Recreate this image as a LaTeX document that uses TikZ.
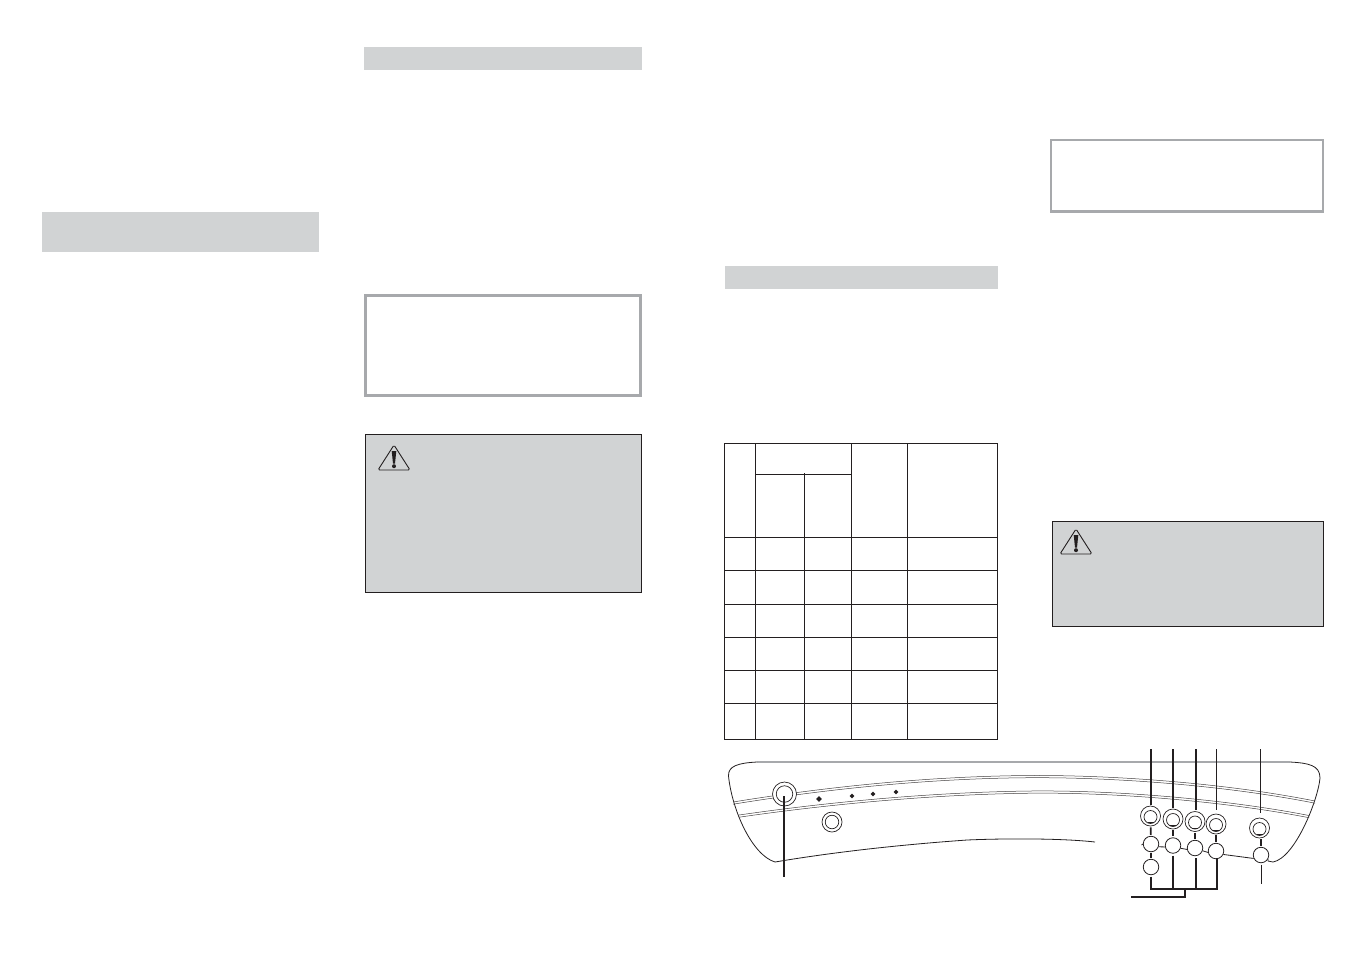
\documentclass[tikz,border=0pt]{standalone}
\usetikzlibrary{shapes.geometric}
\definecolor{panelgray}{HTML}{D1D3D4}
\definecolor{framegray}{HTML}{A7A9AC}
\definecolor{inkblack}{HTML}{231F20}
\tikzset{
  band/.style={fill=panelgray,draw=none},
  framebox/.style={draw=framegray,line width=3pt,fill=white},
  warnbox/.style={fill=panelgray,draw=inkblack,line width=0.9pt},
  grid line/.style={draw=inkblack,line width=1.1pt},
  outline/.style={draw=inkblack,line width=0.8pt},
  stripe/.style={draw=inkblack!85,line width=0.5pt},
  ring/.style={circle,draw=inkblack,line width=0.7pt,inner sep=0pt,minimum size=#1,fill=white},
  ringin/.style={circle,draw=inkblack,line width=0.7pt,inner sep=0pt,minimum size=#1},
  btn/.style={circle,draw=inkblack,line width=0.8pt,inner sep=0pt,minimum size=15.5pt,fill=white},
  dotmark/.style={diamond,aspect=1,fill=inkblack,inner sep=0pt,minimum size=#1},
  heavy/.style={draw=inkblack,line width=1.7pt},
  light/.style={draw=inkblack,line width=0.9pt},
  gapped/.style={heavy,shorten <=1pt,shorten >=1pt},
  warnsign/.style={draw=inkblack,line width=0.9pt,line join=round,rounded corners=1.5pt,fill=panelgray},
}
\begin{document}
\begin{tikzpicture}[x=1pt,y=-1pt]
\useasboundingbox (0,0) rectangle (1351,954);
% heading bands
\fill[band] (364,47) rectangle (642,70);
\fill[band] (42,212) rectangle (319,252);
\fill[band] (725,266) rectangle (998,289);
% framed boxes
\draw[framebox] (365.5,295.7) rectangle (640,395.2);
\draw[framebox,line width=2.4pt] (1051.2,139.8) rectangle (1322.8,211.6);
% warning boxes
\draw[warnbox] (365.5,434.5) rectangle (641.5,592.5);
\draw[warnbox] (1052.5,521.5) rectangle (1323.5,626.5);
\foreach \dx/\dy in {0/0,682/84}{
  \begin{scope}[shift={(\dx,\dy)}]
    \draw[warnsign] (394,445) -- (410,470) -- (378,470) -- cycle;
    \fill[inkblack] (391.7,451) -- (396.3,451) -- (395,463.5) -- (393,463.5) -- cycle;
    \fill[inkblack] (394,466.2) circle (2);
  \end{scope}
}
% table
\draw[grid line] (724.7,443.5) rectangle (997.5,739.5);
\foreach \y in {537.5,570.5,604.5,637.5,670.5,703.5}
  \draw[grid line] (724.7,\y) -- (997.5,\y);
\draw[grid line] (755.3,474.3) -- (851.3,474.3);
\draw[grid line] (755.3,443.5) -- (755.3,739.5);
\draw[grid line] (804.4,473) -- (804.4,739.5);
\draw[grid line] (851.3,443.5) -- (851.3,739.5);
\draw[grid line] (907.3,443.5) -- (907.3,739.5);
% control panel outline
\draw[draw=framegray,line width=1.6pt] (757,762) -- (1290,762);
\draw[outline] (757,762) .. controls (738,763) and (728,766) .. (728.5,776)
  .. controls (732,810) and (752,855) .. (775,862);
\draw[outline] (775,862) .. controls (840,851) and (910,844) .. (967,840)
  .. controls (1000,838.5) and (1060,838) .. (1095,842);
\draw[outline] (1290,762) .. controls (1308,763) and (1320,765) .. (1320,778)
  .. controls (1318,800) and (1295,858) .. (1273,862) -- (1268,861);
% stripes
\foreach \o in {0,2.2}{
  \draw[stripe] (733,{802+\o}) .. controls (850,{783+\o}) and (950,{776+\o}) .. (1030,{775.5+\o})
     .. controls (1120,{775+\o}) and (1230,{784+\o}) .. (1315,{801+\o});
  \draw[stripe] (739,{815+\o}) .. controls (850,{799+\o}) and (950,{792+\o}) .. (1030,{791+\o})
     .. controls (1120,{790+\o}) and (1230,{800+\o}) .. (1309,{815.5+\o});
}
% left controls
\node[ring=24pt] (mainOut) at (784.5,794) {};
\node[ringin=16.5pt] (mainIn) at (784.5,794) {};
\node[ring=20pt] (subOut) at (832,822) {};
\node[ringin=13.5pt] (subIn) at (832,822) {};
\node[dotmark=6pt] (d1) at (819,799) {};
\node[dotmark=5pt] (d2) at (852,796) {};
\node[dotmark=5pt] (d3) at (873,794) {};
\node[dotmark=5pt] (d4) at (896,792) {};
\coordinate (mainEnd) at (784,877);
\coordinate (mainTip) at (784,796);
\draw[heavy] (mainTip) -- (mainEnd);
% knobs
\node[ring=20pt] (k1) at (1150.5,816) {}; \node[ringin=13pt] (k1i) at (1150.5,817) {};
\node[ring=20pt] (k2) at (1173,819) {}; \node[ringin=13pt] (k2i) at (1173,820) {};
\node[ring=20pt] (k3) at (1195,821.5) {}; \node[ringin=13pt] (k3i) at (1195,822.5) {};
\node[ring=20pt] (k4) at (1216,824) {}; \node[ringin=13pt] (k4i) at (1216,825) {};
\node[ring=20pt] (k5) at (1259.5,828) {}; \node[ringin=13pt] (k5i) at (1259.5,829) {};
\foreach \k in {k1,k2,k3,k4,k5}
  \draw[inkblack,line width=0.7pt] ([yshift=-6.8pt]\k.center) ++(-3,0) -- ++(6,0);
% buttons
\node[btn] (b1) at (1151,844) {};
\node[btn] (b2) at (1173,845.5) {};
\node[btn] (b3) at (1195,848) {};
\node[btn] (b4) at (1216,851) {};
\node[btn] (b5) at (1261,855) {};
\node[btn] (b6) at (1151,867) {};
% links between buttons and panel edge
\coordinate (stub) at (1141.5,845);
\draw[outline] (b1.west) -- (stub);
\draw[outline] (b1.-20) -- (b2.190);
\draw[outline] (b2.-20) -- (b3.190);
\draw[outline] (b3.-20) -- (b4.190);
\draw[outline] (b4.-25) -- (b5.205);
\coordinate (edgeEnd) at (1268,861);
\draw[outline] (b5.-30) -- (edgeEnd);
% leaders
\coordinate (t1) at (1151,749); \coordinate (t2) at (1173,749);
\coordinate (t3) at (1196,749); \coordinate (t4) at (1216,749);
\coordinate (t5) at (1260,749);
\draw[heavy,shorten >=1pt] (t1) -- (k1.north-|t1);
\draw[heavy,shorten >=1pt] (t2) -- (k2.north-|t2);
\draw[heavy,shorten >=1pt] (t3) -- (k3.north-|t3);
\draw[light,shorten >=4pt] (t4) -- (k4.north-|t4);
\draw[light,shorten >=5pt] (t5) -- (k5.north-|t5);
\draw[gapped] (k1) -- (b1);
\draw[gapped] (k2) -- (b2);
\draw[gapped] (k3) -- (b3);
\draw[gapped] (k4) -- (b4);
\draw[gapped] (k5.south-|b5) -- (b5);
\draw[gapped] (b1) -- (b6);
\coordinate (j1) at (1151,889); \coordinate (j2) at (1173,889);
\coordinate (j3) at (1196,889); \coordinate (j4) at (1217,889);
\coordinate (j5) at (1185,889); \coordinate (j6) at (1185,897);
\coordinate (jEnd) at (1131,897);
\coordinate (lowEnd) at (1261,884);
\draw[heavy,shorten <=1.5pt] (b6) -- (j1) -- (j4) -- ([yshift=1.5pt]b4.south-|j4);
\draw[heavy,shorten <=2pt] (b2) -- (j2);
\draw[heavy,shorten <=2pt] (b3.south-|j3) -- (j3);
\draw[heavy] (j5) -- (j6) -- (jEnd);
\draw[light,shorten <=1.5pt] (b5) -- (lowEnd);
\end{tikzpicture}
\end{document}
